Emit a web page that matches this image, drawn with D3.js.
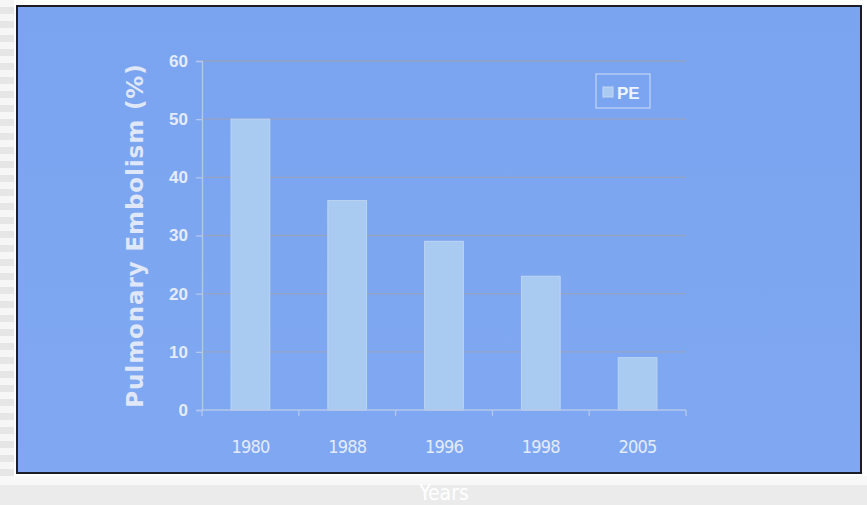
<!DOCTYPE html>
<html>
<head>
<meta charset="utf-8">
<script src="https://cdn.jsdelivr.net/npm/d3@7"></script>
<style>
  body { margin:0; padding:0; overflow:hidden; }
</style>
</head>
<body>
<div id="chart"></div>
<script>
var years = ["1980","1988","1996","1998","2005"];
var pe = [50, 36, 29, 23, 9];
var yTicks = [0,10,20,30,40,50,60];

var W = 867, H = 505;
var svg = d3.select("#chart").append("svg")
    .attr("width", W)
    .attr("height", H);

var defs = svg.append("defs");
var bgStripe = defs.append("pattern")
    .attr("id","stripes")
    .attr("width",10).attr("height",14)
    .attr("patternUnits","userSpaceOnUse");
bgStripe.append("rect").attr("width",10).attr("height",14).attr("fill","#f6f6f6");
bgStripe.append("rect").attr("y",7).attr("width",10).attr("height",7).attr("fill","#e6e6e6");

var grad = defs.append("linearGradient")
    .attr("id","bluebg").attr("x1",0).attr("y1",0).attr("x2",0).attr("y2",1);
grad.append("stop").attr("offset","0%").attr("stop-color","#7aa4f0");
grad.append("stop").attr("offset","100%").attr("stop-color","#80a8f2");

svg.append("rect").attr("width",W).attr("height",H).attr("fill","url(#stripes)");
svg.append("rect").attr("x",14).attr("y",0).attr("width",W-14).attr("height",480).attr("fill","#ffffff");
svg.append("rect").attr("x",0).attr("y",478).attr("width",W).attr("height",27).attr("fill","#ebebeb");
svg.append("rect").attr("x",0).attr("y",476).attr("width",W).attr("height",9).attr("fill","#f8f8f8");

// blue panel
svg.append("rect")
    .attr("x",17).attr("y",6).attr("width",844).attr("height",467)
    .attr("fill","url(#bluebg)")
    .attr("stroke","#1a1d26").attr("stroke-width",2);

var margin = {left:202, right:181, top:61, bottom:95};
var x = d3.scaleBand()
    .domain(years)
    .range([margin.left, W - margin.right])
    .paddingInner(0.6)
    .paddingOuter(0.3);

var y = d3.scaleLinear()
    .domain([0,60])
    .range([410, margin.top]);

var g = svg.append("g");

// gridlines
g.selectAll("line.grid")
    .data(yTicks.slice(1))
    .enter().append("line")
    .attr("class","grid")
    .attr("x1", margin.left).attr("x2", W - margin.right)
    .attr("y1", d => y(d)).attr("y2", d => y(d))
    .attr("stroke","#95a3c2").attr("stroke-width",1.3);

// bars
g.selectAll("rect.bar")
    .data(pe)
    .enter().append("rect")
    .attr("class","bar")
    .attr("x", (d,i) => x(years[i]))
    .attr("width", x.bandwidth())
    .attr("y", d => y(d))
    .attr("height", d => y(0) - y(d))
    .attr("fill","#a9caf1")
    .attr("stroke","#bcd5f3").attr("stroke-width",1);

// y axis
var yAxis = d3.axisLeft(y).tickValues(yTicks).tickSize(6).tickPadding(8);
var ya = svg.append("g").attr("transform","translate(" + margin.left + ",0)").call(yAxis);
ya.select(".domain").attr("stroke","#b5c7ea").attr("stroke-width",1.3);
ya.selectAll(".tick line").attr("stroke","#b5c7ea").attr("stroke-width",1.3);
ya.selectAll(".tick text")
    .attr("fill","#e4ebfa")
    .style("font-size","17px")
    .style("font-weight","bold")
    .style("font-family","'Liberation Sans Narrow', 'Liberation Sans', sans-serif");

// x axis
var xLin = d3.scaleLinear().domain([0,5]).range([margin.left, W - margin.right]);
var xa = svg.append("g").attr("transform","translate(0,410)");
xa.append("line")
    .attr("x1", margin.left).attr("x2", W - margin.right)
    .attr("stroke","#b5c7ea").attr("stroke-width",1.3);
xa.selectAll("line.xt")
    .data(d3.range(6))
    .enter().append("line")
    .attr("class","xt")
    .attr("x1", d => xLin(d)).attr("x2", d => xLin(d))
    .attr("y1",0).attr("y2",6)
    .attr("stroke","#b5c7ea").attr("stroke-width",1.3);
xa.selectAll("text")
    .data(years)
    .enter().append("text")
    .attr("x", d => x(d) + x.bandwidth()/2)
    .attr("y", 43)
    .attr("text-anchor","middle")
    .attr("fill","#e4ebfa")
    .style("font-size","18px")
    .style("font-family","'DejaVu Sans Condensed', 'Liberation Sans Narrow', sans-serif")
    .style("letter-spacing","-0.8px")
    .text(d => d);

// y title
svg.append("text")
    .attr("transform","translate(143," + ((y(0)+y(60))/2) + ") rotate(-90)")
    .attr("text-anchor","middle")
    .attr("fill","#dfe7f8")
    .style("font-size","23px")
    .style("font-weight","bold")
    .style("letter-spacing","0.9px")
    .style("font-family","'DejaVu Sans', sans-serif")
    .text("Pulmonary Embolism (%)");

// x title (outside the panel)
svg.append("text")
    .attr("x", 444).attr("y", 500)
    .attr("text-anchor","middle")
    .attr("fill","#ffffff")
    .style("font-size","21px")
    .style("font-family","'DejaVu Sans Condensed', sans-serif")
    .text("Years");

// legend
var lg = svg.append("g").attr("transform","translate(596,74)");
lg.append("rect").attr("width",54).attr("height",34)
    .attr("fill","none").attr("stroke","#bdd0f3").attr("stroke-width",1.3);
lg.append("rect").attr("x",7).attr("y",13).attr("width",10).attr("height",10)
    .attr("fill","#a9caf1").attr("stroke","#c4d8f4");
lg.append("text").attr("x",21).attr("y",25)
    .attr("fill","#eef3fc")
    .style("font-size","17px")
    .style("font-weight","bold")
    .style("font-family","'Liberation Sans', Arial, sans-serif")
    .text("PE");
</script>
</body>
</html>
